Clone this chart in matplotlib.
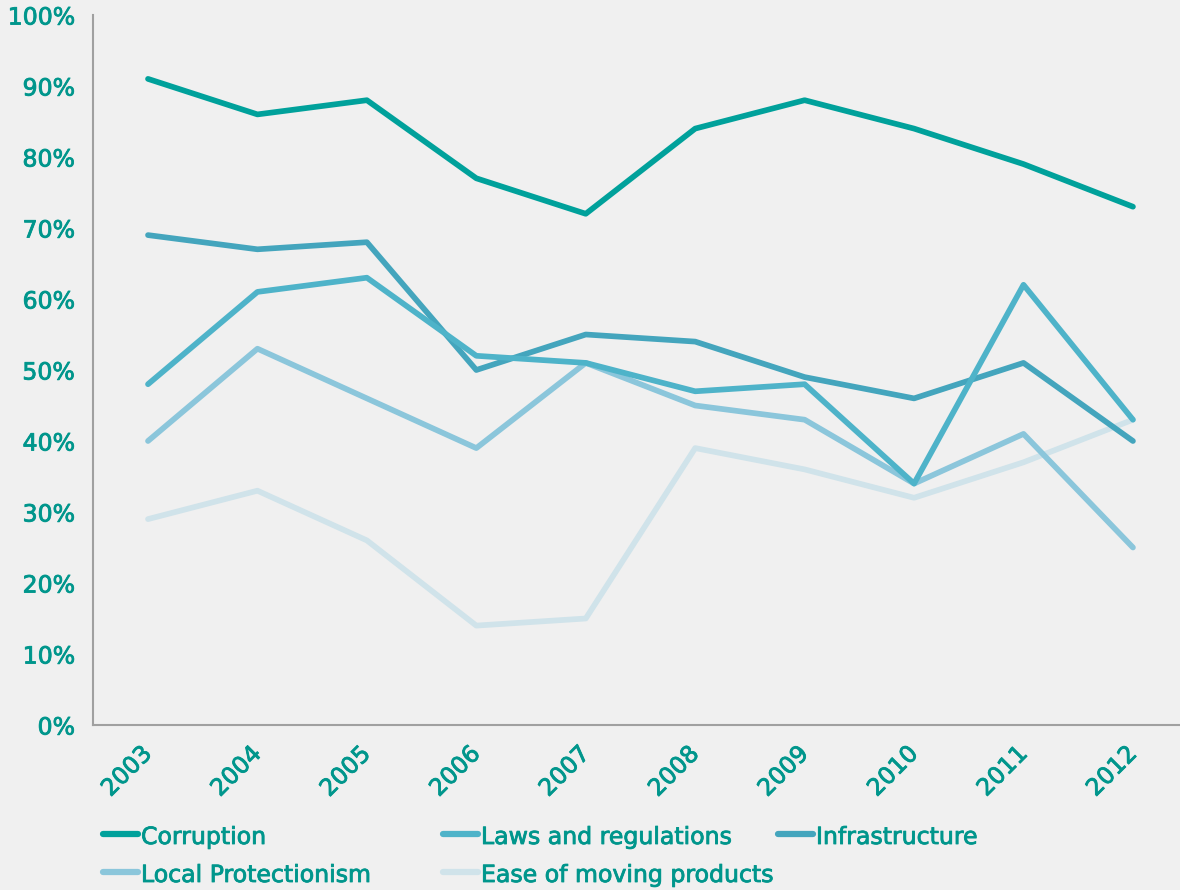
import matplotlib
matplotlib.use("Agg")
import matplotlib.pyplot as plt
import matplotlib.patheffects as pe
from matplotlib.lines import Line2D

years = ["2003", "2004", "2005", "2006", "2007", "2008", "2009", "2010", "2011", "2012"]
corruption = [91, 86, 88, 77, 72, 84, 88, 84, 79, 73]
laws = [48, 61, 63, 52, 51, 47, 48, 34, 62, 43]
infrastructure = [69, 67, 68, 50, 55, 54, 49, 46, 51, 40]
local_prot = [40, 53, 46, 39, 51, 45, 43, 34, 41, 25]
ease = [29, 33, 26, 14, 15, 39, 36, 32, 37, 43]

names = ["Corruption", "Laws and regulations", "Infrastructure",
         "Local Protectionism", "Ease of moving products"]
series = [corruption, laws, infrastructure, local_prot, ease]
colors = ["#00A19B", "#4EB3C9", "#44A5BD", "#8BC6DB", "#D0E3EA"]

txt = "#00968C"
bg = "#F0F0F0"
plt.rcParams['font.family'] = ['DejaVu Sans']
bold_fx = [pe.withStroke(linewidth=0.6, foreground=txt)]

fig = plt.figure(figsize=(11.8, 8.9), dpi=100, facecolor=bg)
W, H = 1180, 890
ax = fig.add_axes([93 / W, 1 - 725 / H, (W - 93) / W, (725 - 15) / H])
ax.set_facecolor(bg)

x = list(range(len(years)))
order = [4, 3, 1, 2, 0]
for i in order:
    ax.plot(x, [v / 100 for v in series[i]], color=colors[i], lw=4.1,
            solid_capstyle='round', solid_joinstyle='round', zorder=2 + (4 - i))

ax.set_xlim(-0.5026, 9.43)
ax.set_ylim(0, 1.0)
ax.set_yticks([i / 10 for i in range(11)])
ax.set_yticklabels([f"{i * 10}%" for i in range(11)])
ax.set_xticks(x)
ax.set_xticklabels(years, rotation=45, ha='right', va='center',
                   rotation_mode='anchor')
ax.tick_params(axis='both', length=0, labelcolor=txt, labelsize=17)
ax.tick_params(axis='y', pad=13)
ax.tick_params(axis='x', pad=18)
for lab in ax.get_yticklabels() + ax.get_xticklabels():
    lab.set_path_effects(bold_fx)
for s in ['top', 'right']:
    ax.spines[s].set_visible(False)
for s in ['left', 'bottom']:
    ax.spines[s].set_color("#A0A0A0")
    ax.spines[s].set_linewidth(1.5)

# legend, drawn manually in a 3-column grid
col_x = [103, 443, 778]
row_y = [837, 875]
for k, (name, c) in enumerate(zip(names, colors)):
    r, cidx = divmod(k, 3)
    x0 = col_x[cidx]
    y0 = 1 - row_y[r] / H
    fig.add_artist(Line2D([x0 / W, (x0 + 35) / W], [y0 + 3 / H, y0 + 3 / H],
                          color=c, lw=4.5, solid_capstyle='round'))
    fig.text((x0 + 38) / W, y0, name, color=txt, fontsize=17,
             va='center', ha='left', path_effects=bold_fx)

fig.savefig("out.png", dpi=100, facecolor=bg)
